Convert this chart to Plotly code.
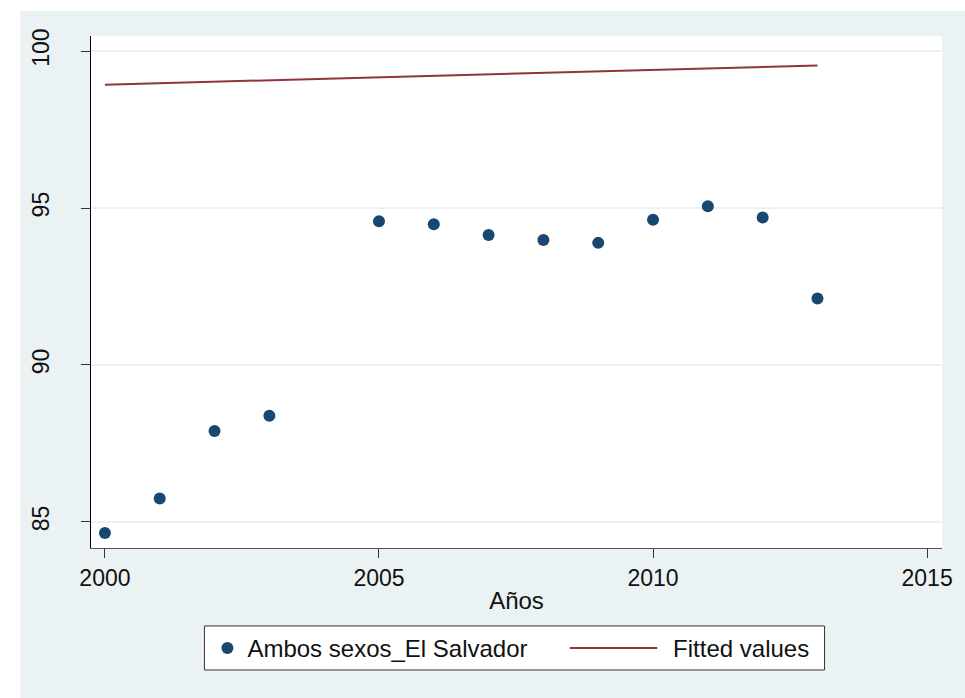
import plotly.graph_objects as go

BG = "#EAF2F3"
NAVY = "#1A476F"
MAROON = "#90353B"

years = [2000, 2001, 2002, 2003, 2005, 2006, 2007, 2008, 2009, 2010, 2011, 2012, 2013]
ambos_sexos = [84.65, 85.75, 87.90, 88.38, 94.58, 94.48, 94.14, 93.98, 93.89,
               94.63, 95.06, 94.70, 92.12]

fit_years = [2000, 2013]
fitted = [98.93, 99.54]

x_ticks = [2000, 2005, 2010, 2015]
y_ticks = [85, 90, 95, 100]

NBSP = "\u00a0"

fig = go.Figure()
fig.add_trace(go.Scatter(
    x=years, y=ambos_sexos, mode="markers",
    name="Ambos sexos_El Salvador",
    marker=dict(color=NAVY, size=12, line=dict(width=0)),
))
fig.add_trace(go.Scatter(
    x=fit_years, y=fitted, mode="lines",
    name=NBSP * 10 + "Fitted values",
    line=dict(color=MAROON, width=2),
))

# thin white strip round the outer panel (left and top)
fig.add_shape(type="rect", xref="paper", yref="paper",
              x0=-0.2, x1=-0.083, y0=-0.5, y1=1.2,
              fillcolor="white", line_width=0, layer="below")
fig.add_shape(type="rect", xref="paper", yref="paper",
              x0=-0.2, x1=1.1, y0=1.0488, y1=1.2,
              fillcolor="white", line_width=0, layer="below")
# legend frame and the long Stata-style line key
fig.add_shape(type="rect", xref="paper", yref="paper",
              x0=0.1333, x1=0.862, y0=-0.2383, y1=-0.1523,
              fillcolor="white", line=dict(color="#333333", width=1))
fig.add_shape(type="line", xref="paper", yref="paper",
              x0=0.5626, x1=0.6655, y0=-0.1953, y1=-0.1953,
              line=dict(color=MAROON, width=2))

fig.update_layout(
    width=965, height=698,
    margin=dict(l=91, r=19, t=36, b=150),
    paper_bgcolor=BG,
    plot_bgcolor="white",
    font=dict(family="Liberation Sans, Arial, sans-serif", size=23, color="#111111"),
    showlegend=True,
    legend=dict(
        orientation="h", x=0.1368, y=-0.152, xanchor="left", yanchor="top",
        bgcolor="rgba(0,0,0,0)", borderwidth=0,
        font=dict(size=24), entrywidth=314, entrywidthmode="pixels",
    ),
    xaxis=dict(
        range=[1999.746, 2015.272], tickvals=x_ticks,
        showgrid=False, zeroline=False,
        showline=True, linecolor="#555555", linewidth=1,
        ticks="outside", ticklen=9, tickcolor="#333333",
        title=dict(text="Años", font=dict(size=24), standoff=2),
    ),
    yaxis=dict(
        range=[84.17, 100.48], tickvals=y_ticks,
        showgrid=True, gridcolor=BG, gridwidth=2,
        zeroline=False,
        showline=True, linecolor="black", linewidth=1,
        ticks="outside", ticklen=9, tickcolor="#333333",
        tickangle=-90, ticklabelstandoff=23,
    ),
)

fig.write_html("out.html", config={"displayModeBar": False},
               post_script="document.body.style.margin='0';")
